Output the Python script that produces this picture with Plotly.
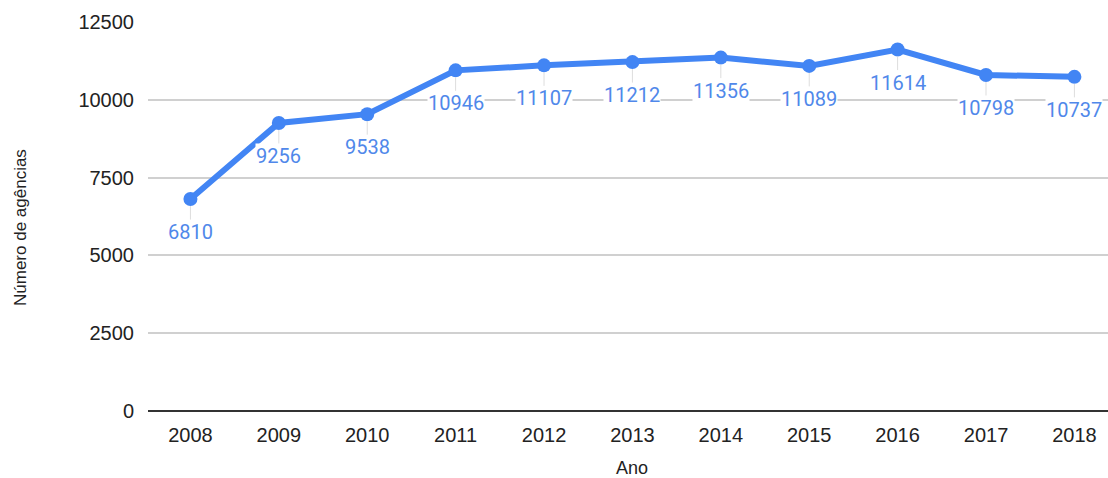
import plotly.graph_objects as go

anos = ["2008", "2009", "2010", "2011", "2012", "2013", "2014", "2015", "2016", "2017", "2018"]
agencias = [6810, 9256, 9538, 10946, 11107, 11212, 11356, 11089, 11614, 10798, 10737]
y_ticks = [0, 2500, 5000, 7500, 10000, 12500]

azul = "#4285f4"
rotulo = "#5088ea"

fig = go.Figure()
fig.add_trace(go.Scatter(
    x=anos, y=agencias, mode="lines+markers",
    line=dict(color=azul, width=6),
    marker=dict(color=azul, size=14),
    hoverinfo="x+y", showlegend=False,
))

# value labels hanging below each point with a thin grey leader
# (category index used as x so numeric-looking years are not read as positions)
for i, v in enumerate(agencias):
    fig.add_annotation(
        x=i, y=v, text=str(v), xref="x", yref="y",
        showarrow=True, arrowhead=0, arrowwidth=1, arrowcolor="#dddddd",
        ax=0, ay=33, standoff=7,
        bgcolor="white", borderpad=0,
        font=dict(family="Roboto, Arial, sans-serif", size=20, color=rotulo),
    )

fig.add_annotation(
    text="Número de agências", textangle=-90, showarrow=False,
    xref="paper", yref="paper", x=(20 - 148) / 960, y=(411 - 228) / 389,
    xanchor="center", yanchor="middle",
    font=dict(family="Liberation Sans, Arial, sans-serif", size=17, color="#222222"),
)
fig.add_annotation(
    text="Ano", showarrow=False,
    xref="paper", yref="paper", x=(632 - 148) / 960, y=-(468 - 411) / 389,
    xanchor="center", yanchor="middle",
    font=dict(family="Liberation Sans, Arial, sans-serif", size=18, color="#222222"),
)

fig.update_layout(
    width=1108, height=478,
    margin=dict(l=148, r=0, t=22, b=67),
    paper_bgcolor="white", plot_bgcolor="white",
    xaxis=dict(
        type="category", range=[-0.48, 10.38],
        showgrid=False, showline=False, zeroline=False,
        ticks="outside", ticklen=6, tickcolor="rgba(0,0,0,0)",
        tickfont=dict(family="Liberation Sans, Arial, sans-serif", size=20, color="#222222"),
    ),
    yaxis=dict(
        range=[0, 12500], tickvals=y_ticks, tickformat="d",
        showgrid=True, gridcolor="#d0d0d0", gridwidth=1.5,
        zeroline=True, zerolinecolor="#333333", zerolinewidth=1.5,
        showline=False, ticklabelstandoff=13,
        tickfont=dict(family="Liberation Sans, Arial, sans-serif", size=20, color="#222222"),
    ),
)

fig.write_html("out.html")
